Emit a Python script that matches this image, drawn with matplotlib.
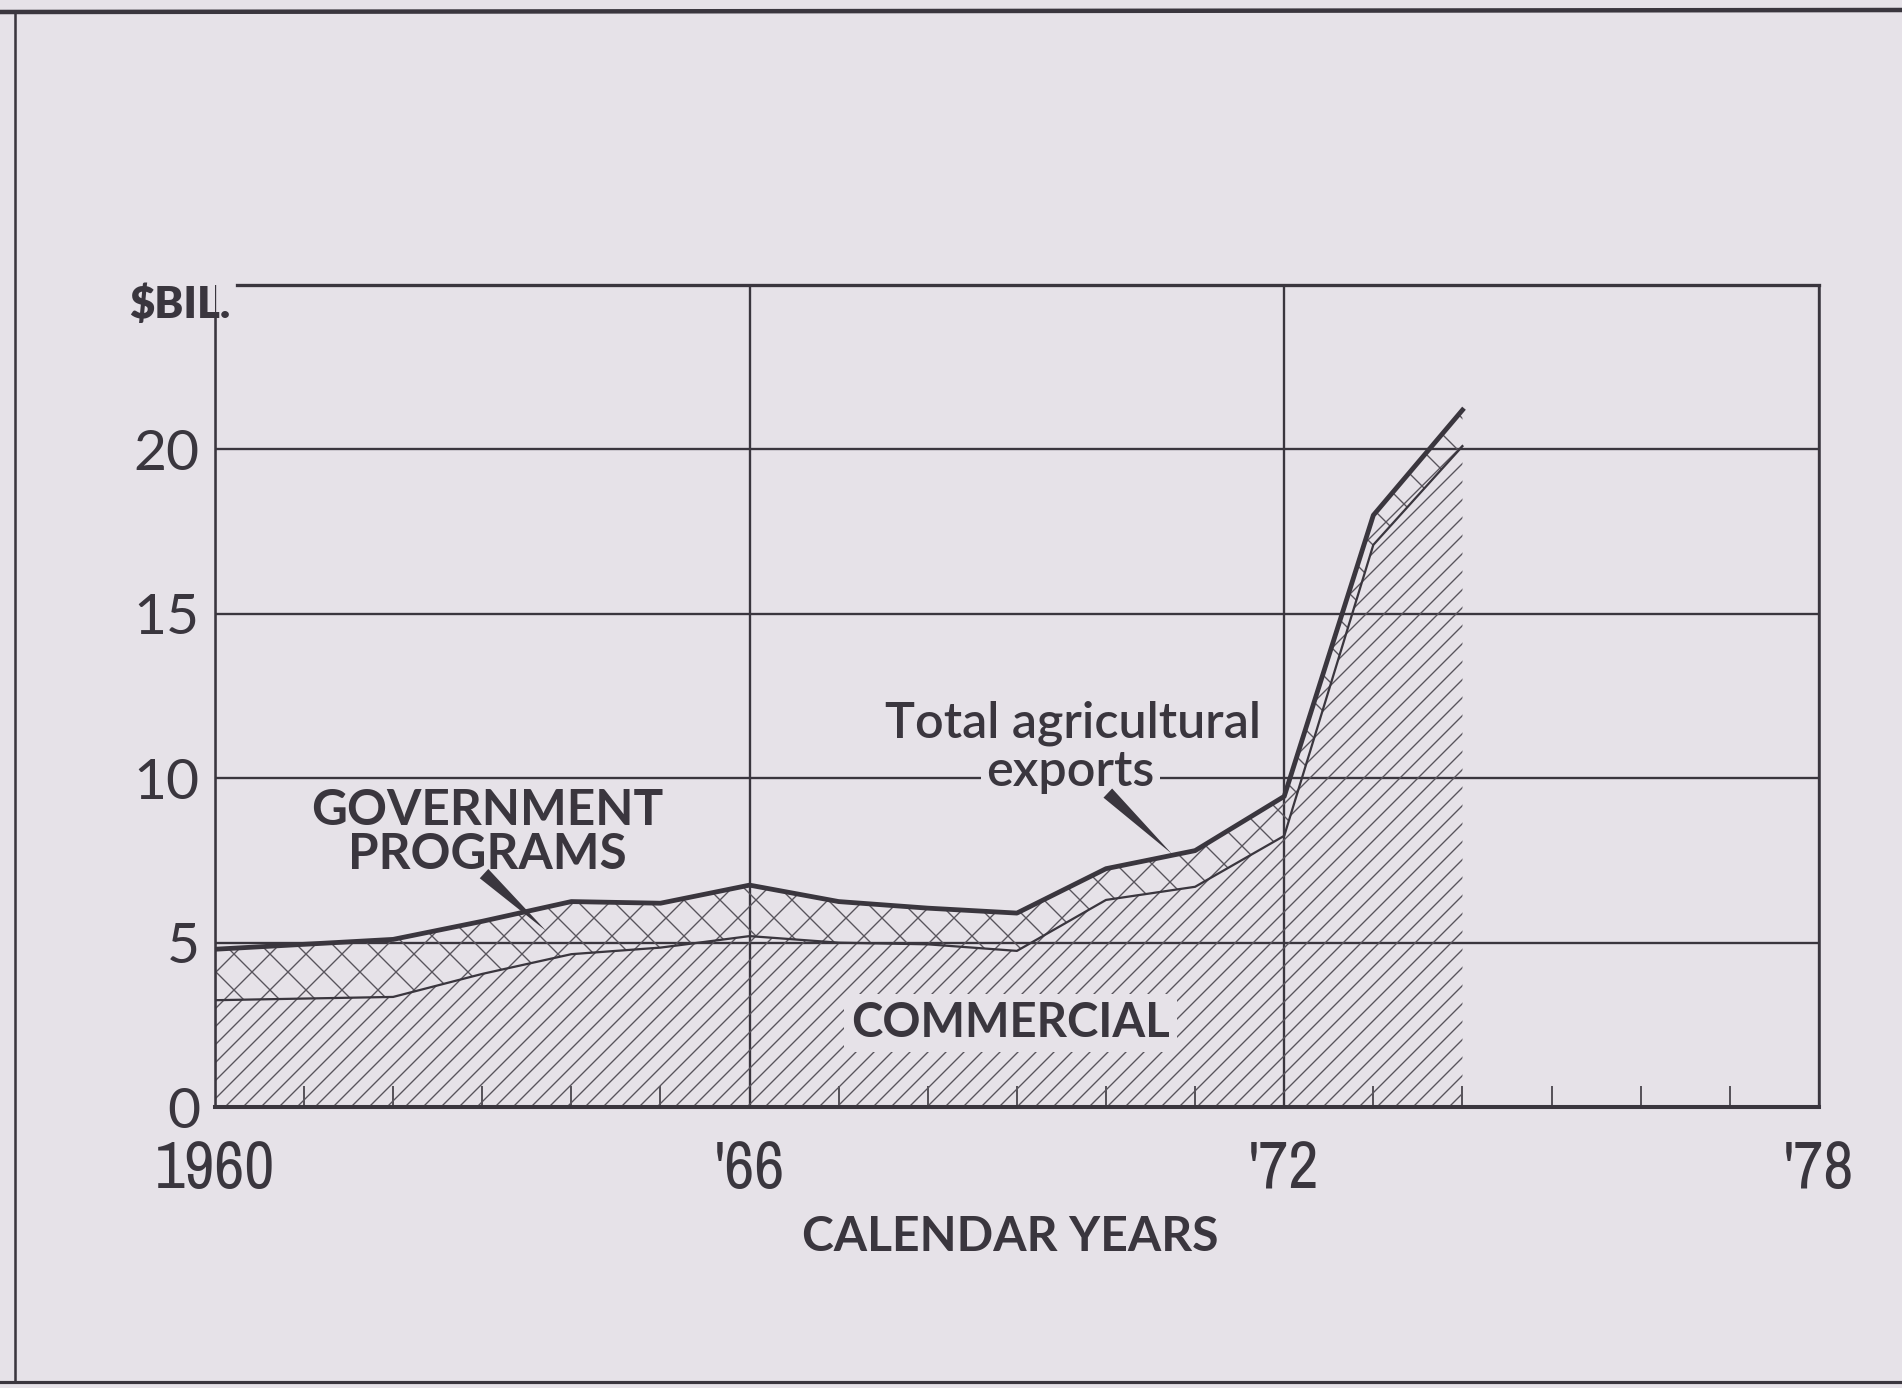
import matplotlib
matplotlib.use("Agg")
import matplotlib.pyplot as plt
from matplotlib.lines import Line2D
from matplotlib import font_manager

# ---- data ----
years = [1960, 1961, 1962, 1963, 1964, 1965, 1966, 1967, 1968, 1969, 1970, 1971, 1972, 1973, 1974]
total_exports = [4.8, 4.95, 5.1, 5.65, 6.25, 6.2, 6.75, 6.25, 6.05, 5.9, 7.25, 7.8, 9.45, 18.0, 21.2]
commercial = [3.25, 3.3, 3.35, 4.05, 4.65, 4.85, 5.2, 5.0, 4.95, 4.75, 6.3, 6.7, 8.25, 17.1, 20.1]
x_ticks = [1960, 1966, 1972, 1978]
x_tick_labels = ["1960", "'66", "'72", "'78"]
y_ticks = [0, 5, 10, 15, 20]
y_tick_labels = ["0", "5", "10", "15", "20"]

BG = "#e6e2e8"
INK = "#3a363e"
HATCH = "#58545c"

# look for a condensed face for the narrow year labels
narrow = None
for f in font_manager.fontManager.ttflist:
    if ("Narrow" in f.name or "Condensed" in f.name) and f.weight in (400, "normal", "regular"):
        narrow = f.name
        break

DPI = 108
plt.rcParams["hatch.linewidth"] = 0.9
fig = plt.figure(figsize=(1902 / DPI, 1388 / DPI), dpi=DPI, facecolor=BG)
ax = fig.add_axes([0.1130, 0.2024, 0.8433, 0.5922])
ax.set_facecolor(BG)

ax.set_xlim(1960, 1978)
ax.set_ylim(0, 25)

# areas
ax.fill_between(years, 0, commercial, facecolor="none", edgecolor=HATCH,
                hatch="//", linewidth=0, zorder=2)
ax.fill_between(years, commercial, total_exports, facecolor="none", edgecolor=HATCH,
                hatch="x", linewidth=0, zorder=2)
ax.plot(years, commercial, color=INK, lw=1.5, zorder=3)
ax.plot(years, total_exports, color=INK, lw=3.2, zorder=4)

# grid and spines
ax.set_xticks(x_ticks)
if narrow is not None:
    ax.set_xticklabels(x_tick_labels, family=[narrow, "DejaVu Sans"], fontsize=44, color=INK)
else:
    ax.set_xticklabels(x_tick_labels, family=["DejaVu Sans"], fontsize=37, color=INK)
ax.set_xticks(range(1960, 1979), minor=True)
ax.set_yticks(y_ticks)
ax.set_yticklabels(y_tick_labels, family=["Lato", "DejaVu Sans"], fontsize=38, color=INK)
ax.tick_params(axis="x", which="major", length=0, pad=22)
ax.tick_params(axis="x", which="minor", direction="in", length=14, width=1.1, color=INK)
ax.tick_params(axis="y", which="major", length=0, pad=10)
ax.grid(True, which="major", color=INK, lw=1.55, zorder=1)

for side in ["left", "right", "top", "bottom"]:
    ax.spines[side].set_color(INK)
ax.spines["bottom"].set_linewidth(2.7)
ax.spines["left"].set_linewidth(1.7)
ax.spines["right"].set_linewidth(1.7)
ax.spines["top"].set_linewidth(2.2)
ax.spines["left"].set_bounds(0, 24.0)
ax.spines["top"].set_bounds(1960.25, 1978)

# labels
ax.set_xlabel("CALENDAR YEARS", family=["Lato", "DejaVu Sans"], fontweight="bold",
              fontsize=32, color=INK)
ax.xaxis.set_label_coords(0.496, -0.158)
ax.xaxis.label.set_va("center")
ax.text(1960.17, 24.4, "$BIL.", ha="right", va="center",
        family=["Lato", "DejaVu Sans"], fontweight="heavy", fontsize=29, color=INK)

ax.text(1963.06, 8.35, "GOVERNMENT\nPROGRAMS", ha="center", va="center",
        family=["Lato", "DejaVu Sans"], fontweight="bold", fontsize=33,
        color=INK, linespacing=0.95, zorder=6)
ax.annotate("", xy=(1963.72, 5.35), xytext=(1963.02, 7.1),
            arrowprops=dict(arrowstyle="wedge,tail_width=0.28,shrink_factor=0.5",
                            mutation_scale=30, color=INK, lw=0,
                            shrinkA=0, shrinkB=0), zorder=6)

ax.text(1969.6, 10.2, "exports", ha="center", va="center",
        family=["Lato", "DejaVu Sans"], fontweight="semibold", fontsize=33.5,
        color=INK, zorder=6,
        bbox=dict(facecolor=BG, edgecolor="none", boxstyle="square,pad=0.1"))
ax.text(1969.63, 11.66, "Total agricultural", ha="center", va="center",
        family=["Lato", "DejaVu Sans"], fontweight="semibold", fontsize=33.5,
        color=INK, zorder=7)
ax.annotate("", xy=(1970.74, 7.7), xytext=(1970.02, 9.55),
            arrowprops=dict(arrowstyle="wedge,tail_width=0.28,shrink_factor=0.5",
                            mutation_scale=30, color=INK, lw=0,
                            shrinkA=0, shrinkB=0), zorder=6)

ax.text(1968.93, 2.55, "COMMERCIAL", ha="center", va="center",
        family=["Lato", "DejaVu Sans"], fontweight="bold", fontsize=31.5,
        color=INK, zorder=6,
        bbox=dict(facecolor=BG, edgecolor="none", boxstyle="square,pad=0.15"))

# outer page frame
fig.add_artist(Line2D([0, 1], [1 - 12 / 1388, 1 - 10 / 1388], transform=fig.transFigure,
                      color=INK, lw=3.0))
fig.add_artist(Line2D([15 / 1902, 15 / 1902], [1 - 12 / 1388, 6 / 1388],
                      transform=fig.transFigure, color=INK, lw=1.7))
fig.add_artist(Line2D([0, 1], [6 / 1388, 6 / 1388], transform=fig.transFigure,
                      color=INK, lw=2.1))

fig.savefig("out.png", dpi=DPI, facecolor=BG)
